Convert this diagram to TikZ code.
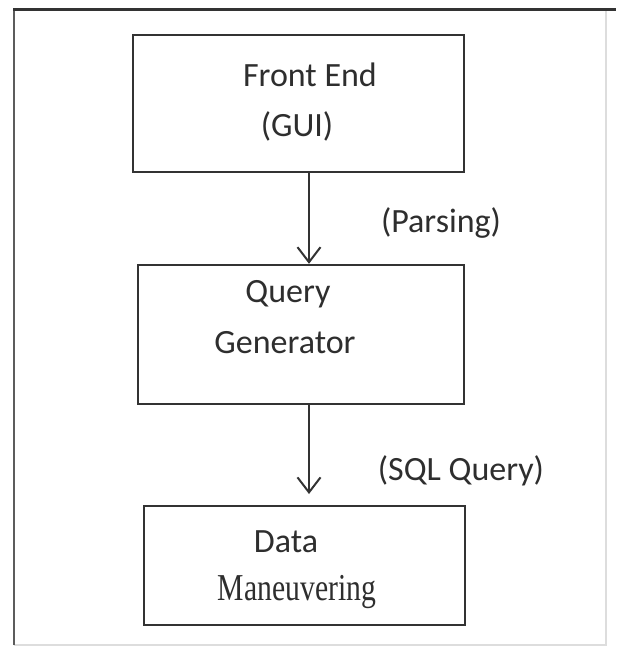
\documentclass[tikz,border=0pt]{standalone}
\usepackage{fontspec}
\setmainfont{Carlito}
\newfontfamily\serifmf{Liberation Serif}
\usetikzlibrary{arrows.meta}
\definecolor{ink}{HTML}{333333}
\definecolor{txt}{HTML}{2E2E2E}
\definecolor{faint}{HTML}{DDDDDD}
\begin{document}
\begin{tikzpicture}[x=1pt,y=-1pt,
  boxstyle/.style={draw=ink,line width=2.4pt,rectangle,inner sep=0pt},
  lbl/.style={anchor=base,inner sep=0pt,text=txt,font=\fontsize{34}{40}\selectfont},
  flow/.style={draw=ink,line width=2pt,-{Straight Barb[length=15pt 0 0,width=23pt 0 0,line width=2pt]}}]
\useasboundingbox (0,0) rectangle (616,647);
\fill[white] (0,0) rectangle (616,647);
% frame
\draw[faint,line width=1.5pt] (606,10) -- (606,645) -- (14,645);
\draw[ink!80,line width=2.2pt] (14,645) -- (14,10);
\draw[ink,line width=3pt] (13,10) -- (616,10);
% boxes
\node[boxstyle,minimum width=331pt,minimum height=137pt] (fe) at (298.5,103.5) {};
\node[boxstyle,minimum width=326pt,minimum height=139pt] (qg) at (301,334.5) {};
\node[boxstyle,minimum width=321pt,minimum height=119pt] (dm) at (304.5,565.5) {};
% texts
\node[lbl] (t1) at (310,87) {Front End};
\node[lbl] (t2) at (297,137) {(GUI)};
\node[lbl] (t3) at (288,302) {Query};
\node[lbl] (t4) at (285,353) {Generator};
\node[lbl] (t5) at (286,552) {Data};
\node[lbl] (t6) at (297,600) {\scalebox{0.78}[1]{\fontsize{38}{44}\selectfont\serifmf Maneuvering}};
\node[lbl] (p1) at (441,232) {(Parsing)};
\node[lbl] (p2) at (461,480) {(SQL Query)};
% connectors
\coordinate (a1s) at (309,172);
\coordinate (a1e) at (309,265);
\coordinate (a2s) at (309,404);
\coordinate (a2e) at (309,494);
\draw[flow] (fe.south -| a1s) -- (qg.north -| a1e);
\draw[flow] (qg.south -| a2s) -- (a2e);
\end{tikzpicture}
\end{document}
